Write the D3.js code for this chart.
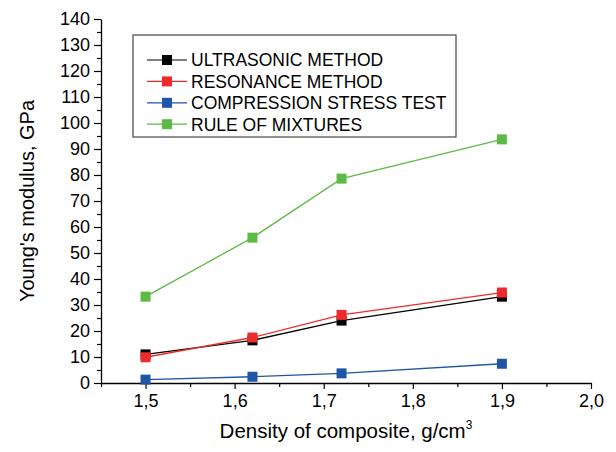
<!DOCTYPE html>
<html>
<head>
<meta charset="utf-8">
<script src="https://cdn.jsdelivr.net/npm/d3@7/dist/d3.min.js"></script>
<style>
    body { margin: 0; background: #fff; }
    svg { display: block; font-family: "Liberation Sans", Arial, sans-serif; }
</style>
</head>
<body>
<div id="chart"></div>
<script>
    // density values, g/cm3
    const density = [1.5, 1.62, 1.72, 1.9];

    const seriesNames = ['ULTRASONIC METHOD', 'RESONANCE METHOD', 'COMPRESSION STRESS TEST', 'RULE OF MIXTURES'];
    const ultrasonic = [11, 16.4, 24, 33.2];
    const resonance = [9.9, 17.5, 26.2, 34.8];
    const compression = [1.3, 2.4, 3.7, 7.4];
    const ruleOfMixtures = [33.2, 55.9, 78.6, 93.7];
    const seriesColors = ['#000000', '#ee2b2b', '#1f55a6', '#5dba45'];

    const xTicks = [1.5, 1.6, 1.7, 1.8, 1.9, 2.0];
    const yTicks = [0, 10, 20, 30, 40, 50, 60, 70, 80, 90, 100, 110, 120, 130, 140];

    const series = [ultrasonic, resonance, compression, ruleOfMixtures].map((vals, i) => ({
        name: seriesNames[i],
        color: seriesColors[i],
        points: vals.map((v, j) => ({ x: density[j], y: v }))
    }));

    const width = 616, height = 452;
    const margin = { top: 19, right: 25, bottom: 69, left: 101 };
    const innerW = width - margin.left - margin.right;
    const innerH = height - margin.top - margin.bottom;

    const svg = d3.select('#chart').append('svg')
        .attr('width', width)
        .attr('height', height);

    const g = svg.append('g')
        .attr('transform', `translate(${margin.left},${margin.top})`);

    const x = d3.scaleLinear().domain([1.45, 2.0]).range([0, innerW]);
    const y = d3.scaleLinear().domain([0, 140]).range([innerH, 0]);

    const fmt = d => d3.format('.1f')(d).replace('.', ',');

    // x axis: major + minor ticks
    const xAxis = g.append('g')
        .attr('transform', `translate(0,${innerH})`)
        .call(d3.axisBottom(x).tickValues(xTicks).tickFormat(fmt).tickSize(6).tickSizeOuter(0));
    xAxis.append('g')
        .call(d3.axisBottom(x).tickValues(d3.range(1.45, 2.0, 0.1)).tickFormat('').tickSize(4).tickSizeOuter(0))
        .select('.domain').remove();

    // y axis
    const yAxis = g.append('g')
        .call(d3.axisLeft(y).tickValues(yTicks).tickSize(7).tickSizeOuter(0).tickPadding(4));
    yAxis.append('g')
        .call(d3.axisLeft(y).tickValues(d3.range(5, 140, 10)).tickFormat('').tickSize(4).tickSizeOuter(0))
        .select('.domain').remove();

    [xAxis, yAxis].forEach(ax => {
        ax.selectAll('.domain').attr('stroke', '#000').attr('stroke-width', 1.3);
        ax.selectAll('line').attr('stroke', '#000').attr('stroke-width', 1.2);
        ax.selectAll('text').attr('font-size', 18).attr('fill', '#000')
            .attr('font-family', '"Liberation Sans", Arial, sans-serif');
    });
    xAxis.selectAll('text').attr('dy', '0.85em');

    // lines and markers
    const line = d3.line().x(d => x(d.x)).y(d => y(d.y));
    const ms = 10;

    series.forEach(s => {
        g.append('path')
            .datum(s.points)
            .attr('fill', 'none')
            .attr('stroke', s.color)
            .attr('stroke-width', 1.3)
            .attr('d', line);
        g.selectAll(null)
            .data(s.points)
            .enter()
            .append('rect')
            .attr('x', d => x(d.x) - ms / 2)
            .attr('y', d => y(d.y) - ms / 2)
            .attr('width', ms)
            .attr('height', ms)
            .attr('fill', s.color);
    });

    // legend
    const legend = svg.append('g').attr('transform', 'translate(133,35)');
    legend.append('rect')
        .attr('width', 323)
        .attr('height', 102)
        .attr('fill', '#fff')
        .attr('stroke', '#555')
        .attr('stroke-width', 1.3);

    const rows = legend.selectAll('.row')
        .data(series)
        .enter()
        .append('g')
        .attr('class', 'row')
        .attr('transform', (d, i) => `translate(0,${25 + i * 21.4})`);
    rows.append('line')
        .attr('x1', 14).attr('x2', 54)
        .attr('stroke', d => d.color)
        .attr('stroke-width', 1.2);
    rows.append('rect')
        .attr('x', 34 - ms / 2).attr('y', -ms / 2)
        .attr('width', ms).attr('height', ms)
        .attr('fill', d => d.color);
    rows.append('text')
        .attr('x', 58)
        .attr('dy', '0.36em')
        .attr('font-size', 17.5)
        .text(d => d.name);

    // axis titles
    svg.append('text')
        .attr('transform', 'translate(34,201) rotate(-90)')
        .attr('text-anchor', 'middle')
        .attr('font-size', 20)
        .text("Young's modulus,  GPa");

    const xTitle = svg.append('text')
        .attr('x', margin.left + innerW / 2)
        .attr('y', 438)
        .attr('text-anchor', 'middle')
        .attr('font-size', 20.5)
        .text('Density of composite, g/cm');
    xTitle.append('tspan')
        .attr('font-size', 12)
        .attr('dy', -9)
        .text('3');
</script>
</body>
</html>
